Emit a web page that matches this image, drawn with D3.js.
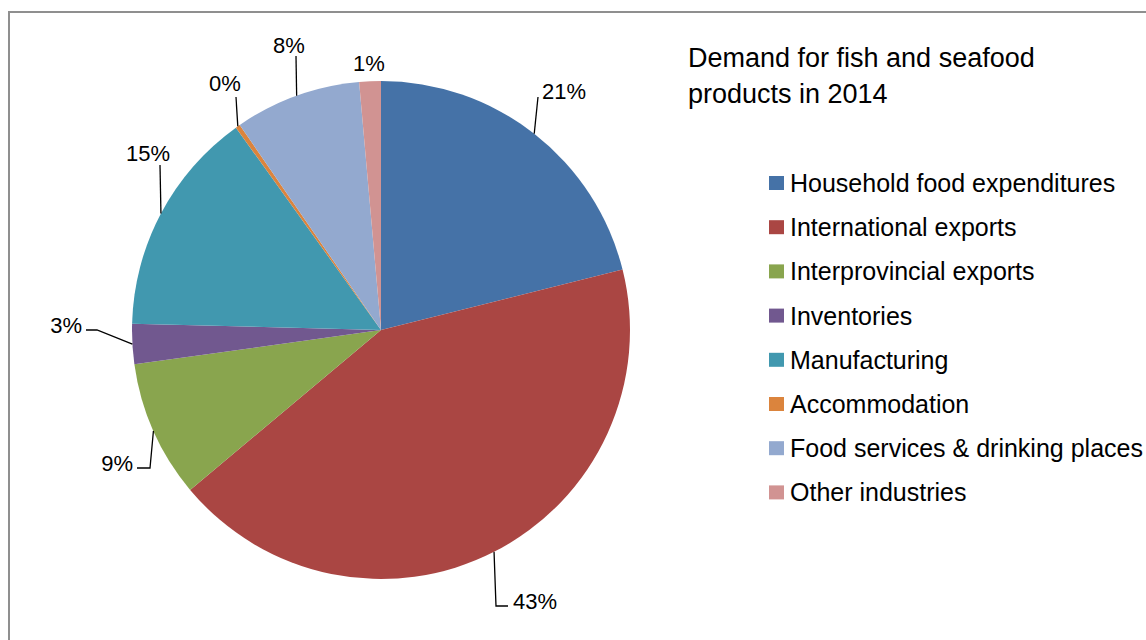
<!DOCTYPE html>
<html>
<head>
<meta charset="utf-8">
<script src="https://cdn.jsdelivr.net/npm/d3@7"></script>
<style>
  html, body { margin: 0; padding: 0; background: #fff; }
  svg { display: block; font-family: "Liberation Sans", Arial, sans-serif; }
</style>
</head>
<body>
<svg id="chart" width="1146" height="640"></svg>
<script>
// Demand for fish and seafood products, 2014 (share of total, %)
const categories = [
  "Household food expenditures",
  "International exports",
  "Interprovincial exports",
  "Inventories",
  "Manufacturing",
  "Accommodation",
  "Food services & drinking places",
  "Other industries"
];
const shares = [21.1, 42.8, 8.9, 2.6, 14.7, 0.3, 8.2, 1.4];
const colors = ["#4572A7", "#AA4643", "#89A54E", "#71588F", "#4198AF", "#DB843D", "#93A9CF", "#D19392"];
const titleLines = ["Demand for fish and seafood", "products in 2014"];

// Data-label layout: leader bend/end points and text anchor, relative to pie centre
const labelLayout = [
  { leader: [[157, -233]], text: [161, -231], anchor: "start" },
  { leader: [[115, 276], [127, 276]], text: [132, 279], anchor: "start" },
  { leader: [[-231, 138], [-244, 138]], text: [-248, 141], anchor: "end" },
  { leader: [[-284, 0], [-295, 0]], text: [-299, 3], anchor: "end" },
  { leader: [[-221, -165]], text: [-233, -169], anchor: "middle" },
  { leader: [[-145, -233]], text: [-156, -239], anchor: "middle" },
  { leader: [[-85, -274]], text: [-92, -277], anchor: "middle" },
  { leader: null, text: [-12, -259], anchor: "middle" }
];

const svg = d3.select("#chart");
const cx = 381, cy = 330, r = 249;

// Outer frame (top and left edges visible)
svg.append("path")
  .attr("d", `M9,641 L9,12 L1147,12`)
  .attr("fill", "none")
  .attr("stroke", "#8f8f8f")
  .attr("stroke-width", 2);

const pie = d3.pie().sort(null).value(d => d)(shares);
const arc = d3.arc().innerRadius(0).outerRadius(r);
const edge = d3.arc().innerRadius(r).outerRadius(r);

const g = svg.append("g").attr("transform", `translate(${cx},${cy})`);

g.selectAll("path.slice")
  .data(pie)
  .join("path")
  .attr("class", "slice")
  .attr("d", arc)
  .attr("fill", (d, i) => colors[i]);

const fmt = d3.format(".0f");

// Leader lines from slice mid-point on the rim
g.selectAll("path.leader")
  .data(pie.filter((d, i) => labelLayout[i].leader))
  .join("path")
  .attr("class", "leader")
  .attr("fill", "none")
  .attr("stroke", "#000")
  .attr("stroke-width", 1.3)
  .attr("d", d => {
    const p = edge.centroid(d);
    return d3.line()([p, ...labelLayout[d.index].leader]);
  });

g.selectAll("text.value")
  .data(pie)
  .join("text")
  .attr("class", "value")
  .attr("x", d => labelLayout[d.index].text[0])
  .attr("y", d => labelLayout[d.index].text[1])
  .attr("text-anchor", d => labelLayout[d.index].anchor)
  .attr("font-size", 22)
  .attr("fill", "#000")
  .text(d => fmt(d.data) + "%");

// Title
svg.append("g")
  .selectAll("text")
  .data(titleLines)
  .join("text")
  .attr("x", 688)
  .attr("y", (d, i) => 67 + i * 36)
  .attr("font-size", 27)
  .attr("fill", "#000")
  .text(d => d);

// Legend
const legend = svg.append("g").attr("transform", "translate(769,176)");
const rows = legend.selectAll("g")
  .data(categories)
  .join("g")
  .attr("transform", (d, i) => `translate(0,${i * 44.2})`);
rows.append("rect")
  .attr("width", 15).attr("height", 14)
  .attr("fill", (d, i) => colors[i]);
rows.append("text")
  .attr("x", 21)
  .attr("y", 16)
  .attr("font-size", 25)
  .attr("fill", "#000")
  .text(d => d);
</script>
</body>
</html>
